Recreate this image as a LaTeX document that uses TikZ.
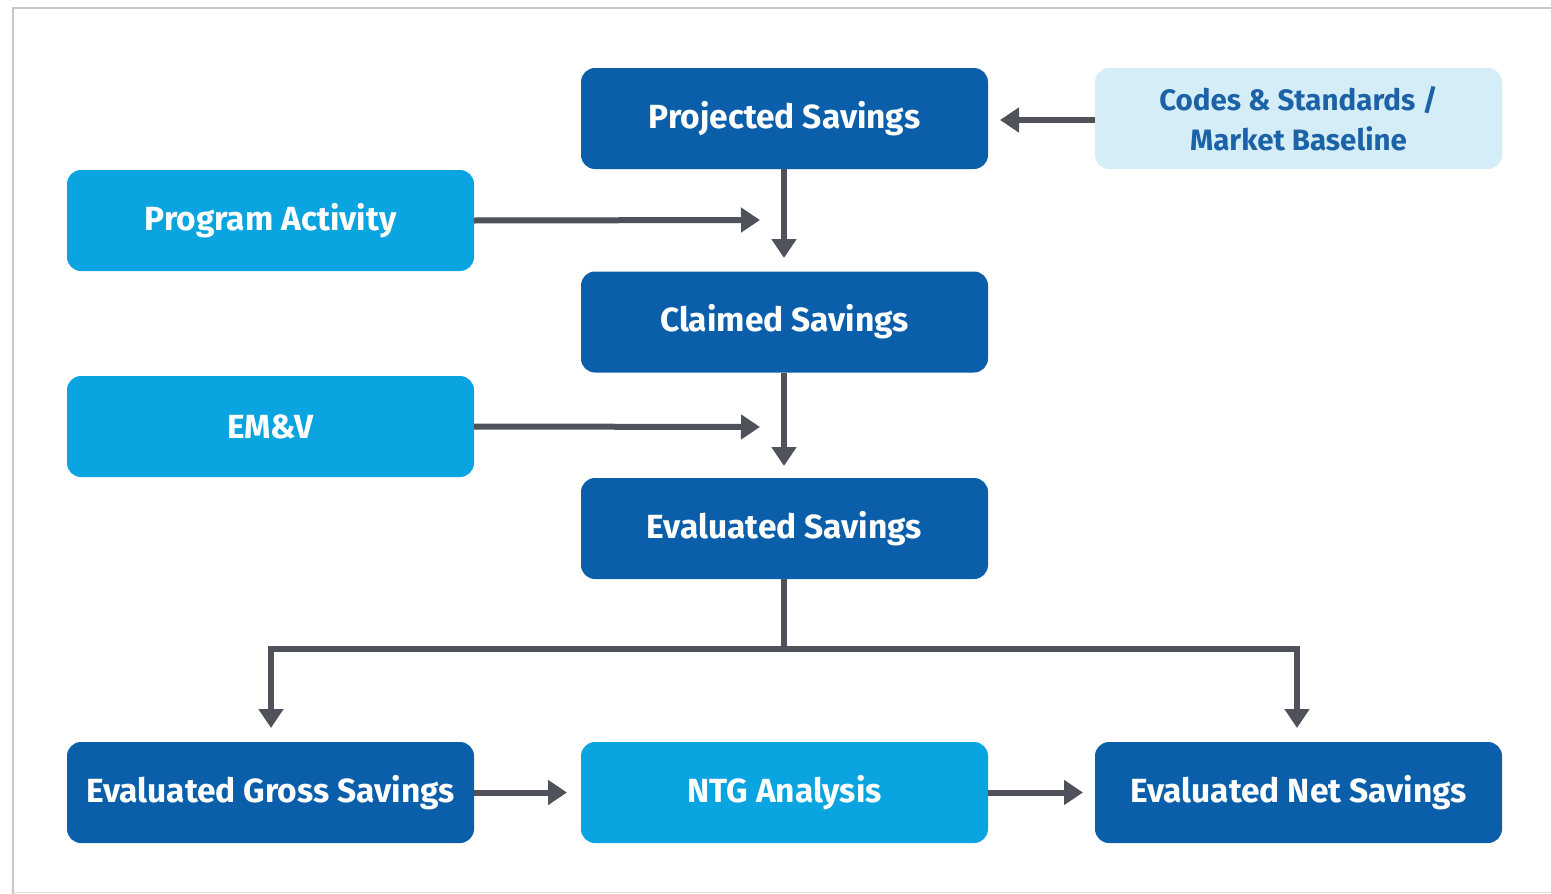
\documentclass[tikz,border=0pt]{standalone}
\usepackage{fontspec}
\setmainfont{Fira Sans}
\usetikzlibrary{arrows.meta}
\definecolor{darkblue}{HTML}{0B5FAA}
\definecolor{brightblue}{HTML}{0AA5E0}
\definecolor{paleblue}{HTML}{D4EDF7}
\definecolor{paletext}{HTML}{1B62A6}
\definecolor{arrowgray}{HTML}{4F525A}
\definecolor{framegray}{HTML}{C8C8C8}
\begin{document}
\begin{tikzpicture}[x=1pt,y=-1pt,
  box/.style={rounded corners=14pt, minimum width=407pt, minimum height=101pt,
    inner sep=0pt, align=center, font=\fontsize{33.5}{40}\selectfont\bfseries},
  mainbox/.style={box, fill=darkblue, text=white},
  inbox/.style={box, fill=brightblue, text=white},
  refbox/.style={box, fill=paleblue, text=paletext,
    font=\fontsize{29.5}{40}\selectfont\bfseries},
  flow/.style={draw=arrowgray, line width=6pt,
    -{Triangle[length=19pt,width=24pt]}},
  link/.style={draw=arrowgray, line width=6pt}]
\useasboundingbox (0,0) rectangle (1551,894);
% page frame
\draw[framegray, line width=1.5pt] (13,894) -- (13,8) -- (1551,8);
\draw[framegray!60, line width=1pt] (13,892) -- (1551,892);

\node[mainbox] (proj) at (784.5,118.5) {Projected Savings};
\node[refbox]  (codes) at (1298.5,118.5) {Codes \& Standards /\\Market Baseline};
\node[inbox]   (prog) at (270.5,220.5) {Program Activity};
\node[mainbox] (claim) at (784.5,322) {Claimed Savings};
\node[inbox]   (emv) at (270.5,426.5) {EM\&V};
\node[mainbox] (eval) at (784.5,528.5) {Evaluated Savings};
\node[mainbox] (gross) at (270.5,792.5) {Evaluated Gross Savings};
\node[inbox]   (ntg) at (784.5,792.5) {NTG Analysis};
\node[mainbox] (net) at (1298.5,792.5) {Evaluated Net Savings};

\coordinate (j1) at (784,258);
\coordinate (j2) at (784,466);
\coordinate (pa) at (760,220);
\coordinate (ea) at (760,427);
\coordinate (split) at (784,649);
\coordinate (lt) at (271,728);
\coordinate (rt) at (1297,728);

\draw[flow] (codes.west |- 0,120) -- (1000,120);
\draw[flow] (proj.south -| j1) -- (j1);
\draw[flow] (prog.east) -- (pa);
\draw[flow] (claim.south -| j2) -- (j2);
\draw[flow] (emv.east) -- (ea);
\draw[link] (eval.south -| split) -- (split);
\draw[flow] (split) -| (lt);
\draw[flow] (split) -| (rt);
\draw[flow] (gross.east) -- (567,792.5);
\draw[flow] (ntg.east) -- (1083,792.5);
\end{tikzpicture}
\end{document}
